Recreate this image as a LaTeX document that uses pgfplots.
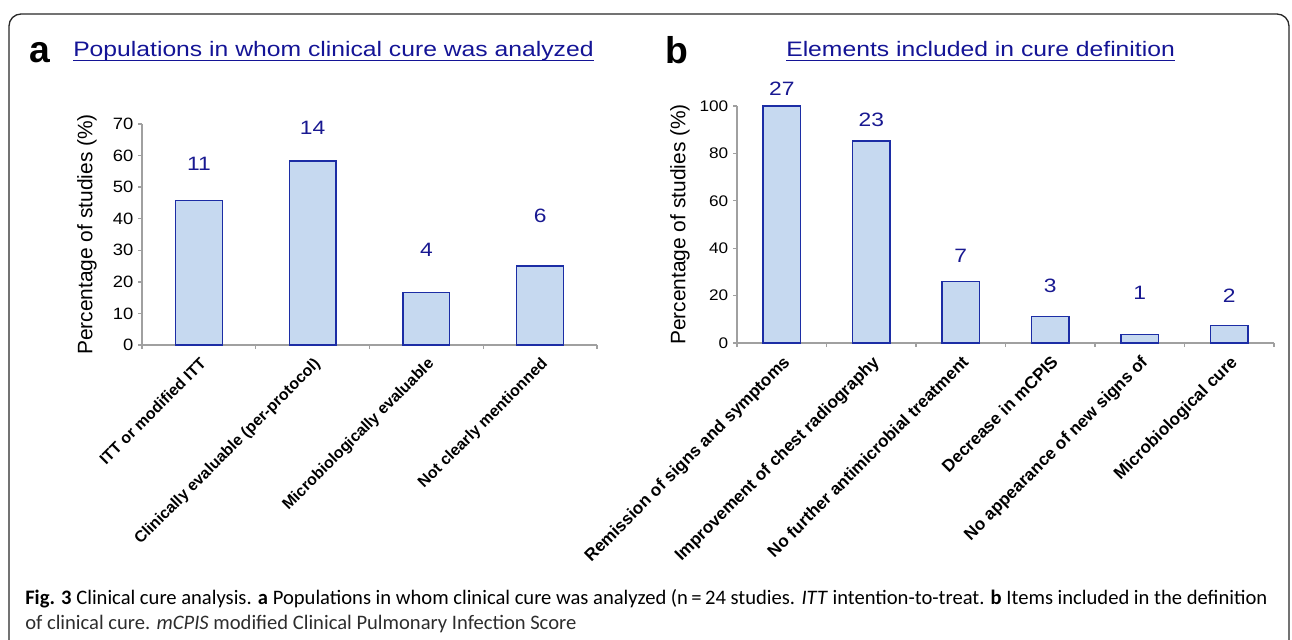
\documentclass[border=0pt]{standalone}
\usepackage{pgfplots}
\pgfplotsset{compat=1.18}
\usepackage{fontspec}
\setmainfont{Liberation Sans}
\newfontfamily\sfs{Liberation Sans}[FakeStretch=1.18]
\newfontfamily\tfs{Liberation Sans}[FakeStretch=1.12]
\newfontfamily\capfont{Carlito}
\definecolor{barfill}{RGB}{198,217,240}
\definecolor{baredge}{RGB}{28,45,165}
\definecolor{valblue}{RGB}{25,25,145}
\definecolor{titleblue}{RGB}{20,20,150}
\definecolor{axgray}{RGB}{160,160,160}
\definecolor{capgray}{RGB}{45,45,45}

\newsavebox\capone
\newlength\caponewd
\AtBeginDocument{%
\sbox\capone{\capfont\fontsize{14pt}{16pt}\selectfont \textbf{Fig. 3} Clinical cure analysis. \textbf{a} Populations in whom clinical cure was analyzed (n\,=\,24 studies. \textit{ITT} intention-to-treat. \textbf{b} Items included in the definition}%
\setlength\caponewd{\wd\capone}}

\pgfplotstableread{
x y
0 45.83
1 58.33
2 16.67
3 25.00
}\dataA
\pgfplotstableread{
x y lab
0 57.3 11
1 68.7 14
2 30.1 4
3 40.8 6
}\labA
\pgfplotstableread{
x y
0 100.0
1 85.19
2 25.93
3 11.11
4 3.70
5 7.41
}\dataB
\pgfplotstableread{
x y lab
0 107.2 27
1 94.1 23
2 36.7 7
3 24.1 3
4 21.1 1
5 19.8 2
}\labB

\pgfplotsset{
 myaxis/.style={
  scale only axis, anchor=south west,
  axis lines*=left, axis line style={axgray, line width=1pt},
  tick align=outside, major tick length=3pt,
  tick style={axgray, line width=1pt},
  ymin=0, clip=false,
  xmin=-0.5,
  ylabel={Percentage of studies (\%)},
  /pgf/number format/assume math mode=true,
  extra x tick style={major tick length=0pt},
  xticklabel shift=7pt,
  every node near coord/.append style={anchor=center, text=valblue, font=\sfs\fontsize{14.5pt}{16pt}\selectfont},
 }
}

\begin{document}
\begin{tikzpicture}
\pgfmathsetmacro{\capscale}{931.5/\caponewd}
\begin{scope}[x=0.75pt, y=-0.75pt]
\path[use as bounding box] (0,0) rectangle (1292,639);
\draw[line width=1pt, color={rgb,255:red,40;green,40;blue,40}, rounded corners=9pt] (9,700) -- (9,14) -- (1289,14) -- (1289,700);
\node[anchor=base west, inner sep=0, font=\bfseries\fontsize{28pt}{30pt}\selectfont] at (29,62) {a};
\node[anchor=base west, inner sep=0, font=\bfseries\fontsize{28pt}{30pt}\selectfont] at (665,63) {b};
\node[anchor=base west, inner sep=0, text=titleblue, font=\sfs\fontsize{15.7pt}{17pt}\selectfont] (ta) at (73,56) {Populations in whom clinical cure was analyzed};
\draw[titleblue, line width=1.1pt] (73,60.5) -- (ta.base east |- 0,60.5);
\node[anchor=base west, inner sep=0, text=titleblue, font=\sfs\fontsize{15.7pt}{17pt}\selectfont] (tb) at (786,56) {Elements included in cure definition};
\draw[titleblue, line width=1.1pt] (786,60.5) -- (tb.base east |- 0,60.5);
\node[anchor=base west, inner sep=0, text=capgray] at (25,604) {\scalebox{\capscale}{\usebox\capone}};
\node[anchor=base west, inner sep=0, text=capgray] at (25,629) {\scalebox{\capscale}{\capfont\fontsize{14pt}{16pt}\selectfont of clinical cure. \textit{mCPIS} modified Clinical Pulmonary Infection Score}};
\end{scope}

\begin{axis}[myaxis,
  at={(106.5pt,-258.75pt)},
  width=341.25pt, height=165.75pt,
  xmax=3.5, ymax=70,
  ytick={0,10,...,70},
  xtick={-0.5,0.5,1.5,2.5,3.5}, xticklabels={,,,,},
  extra x ticks={0,1,2,3},
  extra x tick labels={ITT or modified ITT, Clinically evaluable (per-protocol), Microbiologically evaluable, Not clearly mentionned},
  y tick label style={font=\tfs\fontsize{12.3pt}{14pt}\selectfont},
  x tick label style={rotate=45, anchor=north east, inner sep=1pt, font=\bfseries\fontsize{11.9pt}{14pt}\selectfont},
  ylabel style={at={(axis description cs:-0.121,0.5)}, anchor=center, font=\fontsize{15.7pt}{18pt}\selectfont},
]
\addplot[ybar, bar width=0.41, bar shift=0pt, fill=barfill, draw=baredge, line width=1pt] table[x=x, y=y] {\dataA};
\addplot[draw=none, mark=none, nodes near coords, point meta=explicit symbolic] table[x=x, y=y, meta=lab] {\labA};
\end{axis}

\begin{axis}[myaxis,
  at={(552.75pt,-257.25pt)},
  width=402.75pt, height=177.75pt,
  xmax=5.5, ymax=100,
  ytick={0,20,...,100},
  xtick={-0.5,0.5,...,5.5}, xticklabels={,,,,,,},
  extra x ticks={0,1,2,3,4,5},
  extra x tick labels={Remission of signs and symptoms, Improvement of chest radiography, No further antimicrobial treatment, Decrease in mCPIS, No appearance of new signs of, Microbiological cure},
  y tick label style={font=\tfs\fontsize{11.5pt}{13pt}\selectfont},
  x tick label style={rotate=45, anchor=north east, inner sep=1pt, font=\bfseries\fontsize{12.8pt}{15pt}\selectfont},
  ylabel style={at={(axis description cs:-0.106,0.5)}, anchor=center, font=\fontsize{15.7pt}{18pt}\selectfont},
]
\addplot[ybar, bar width=0.42, bar shift=0pt, fill=barfill, draw=baredge, line width=1pt] table[x=x, y=y] {\dataB};
\addplot[draw=none, mark=none, nodes near coords, point meta=explicit symbolic] table[x=x, y=y, meta=lab] {\labB};
\end{axis}
\end{tikzpicture}
\end{document}
